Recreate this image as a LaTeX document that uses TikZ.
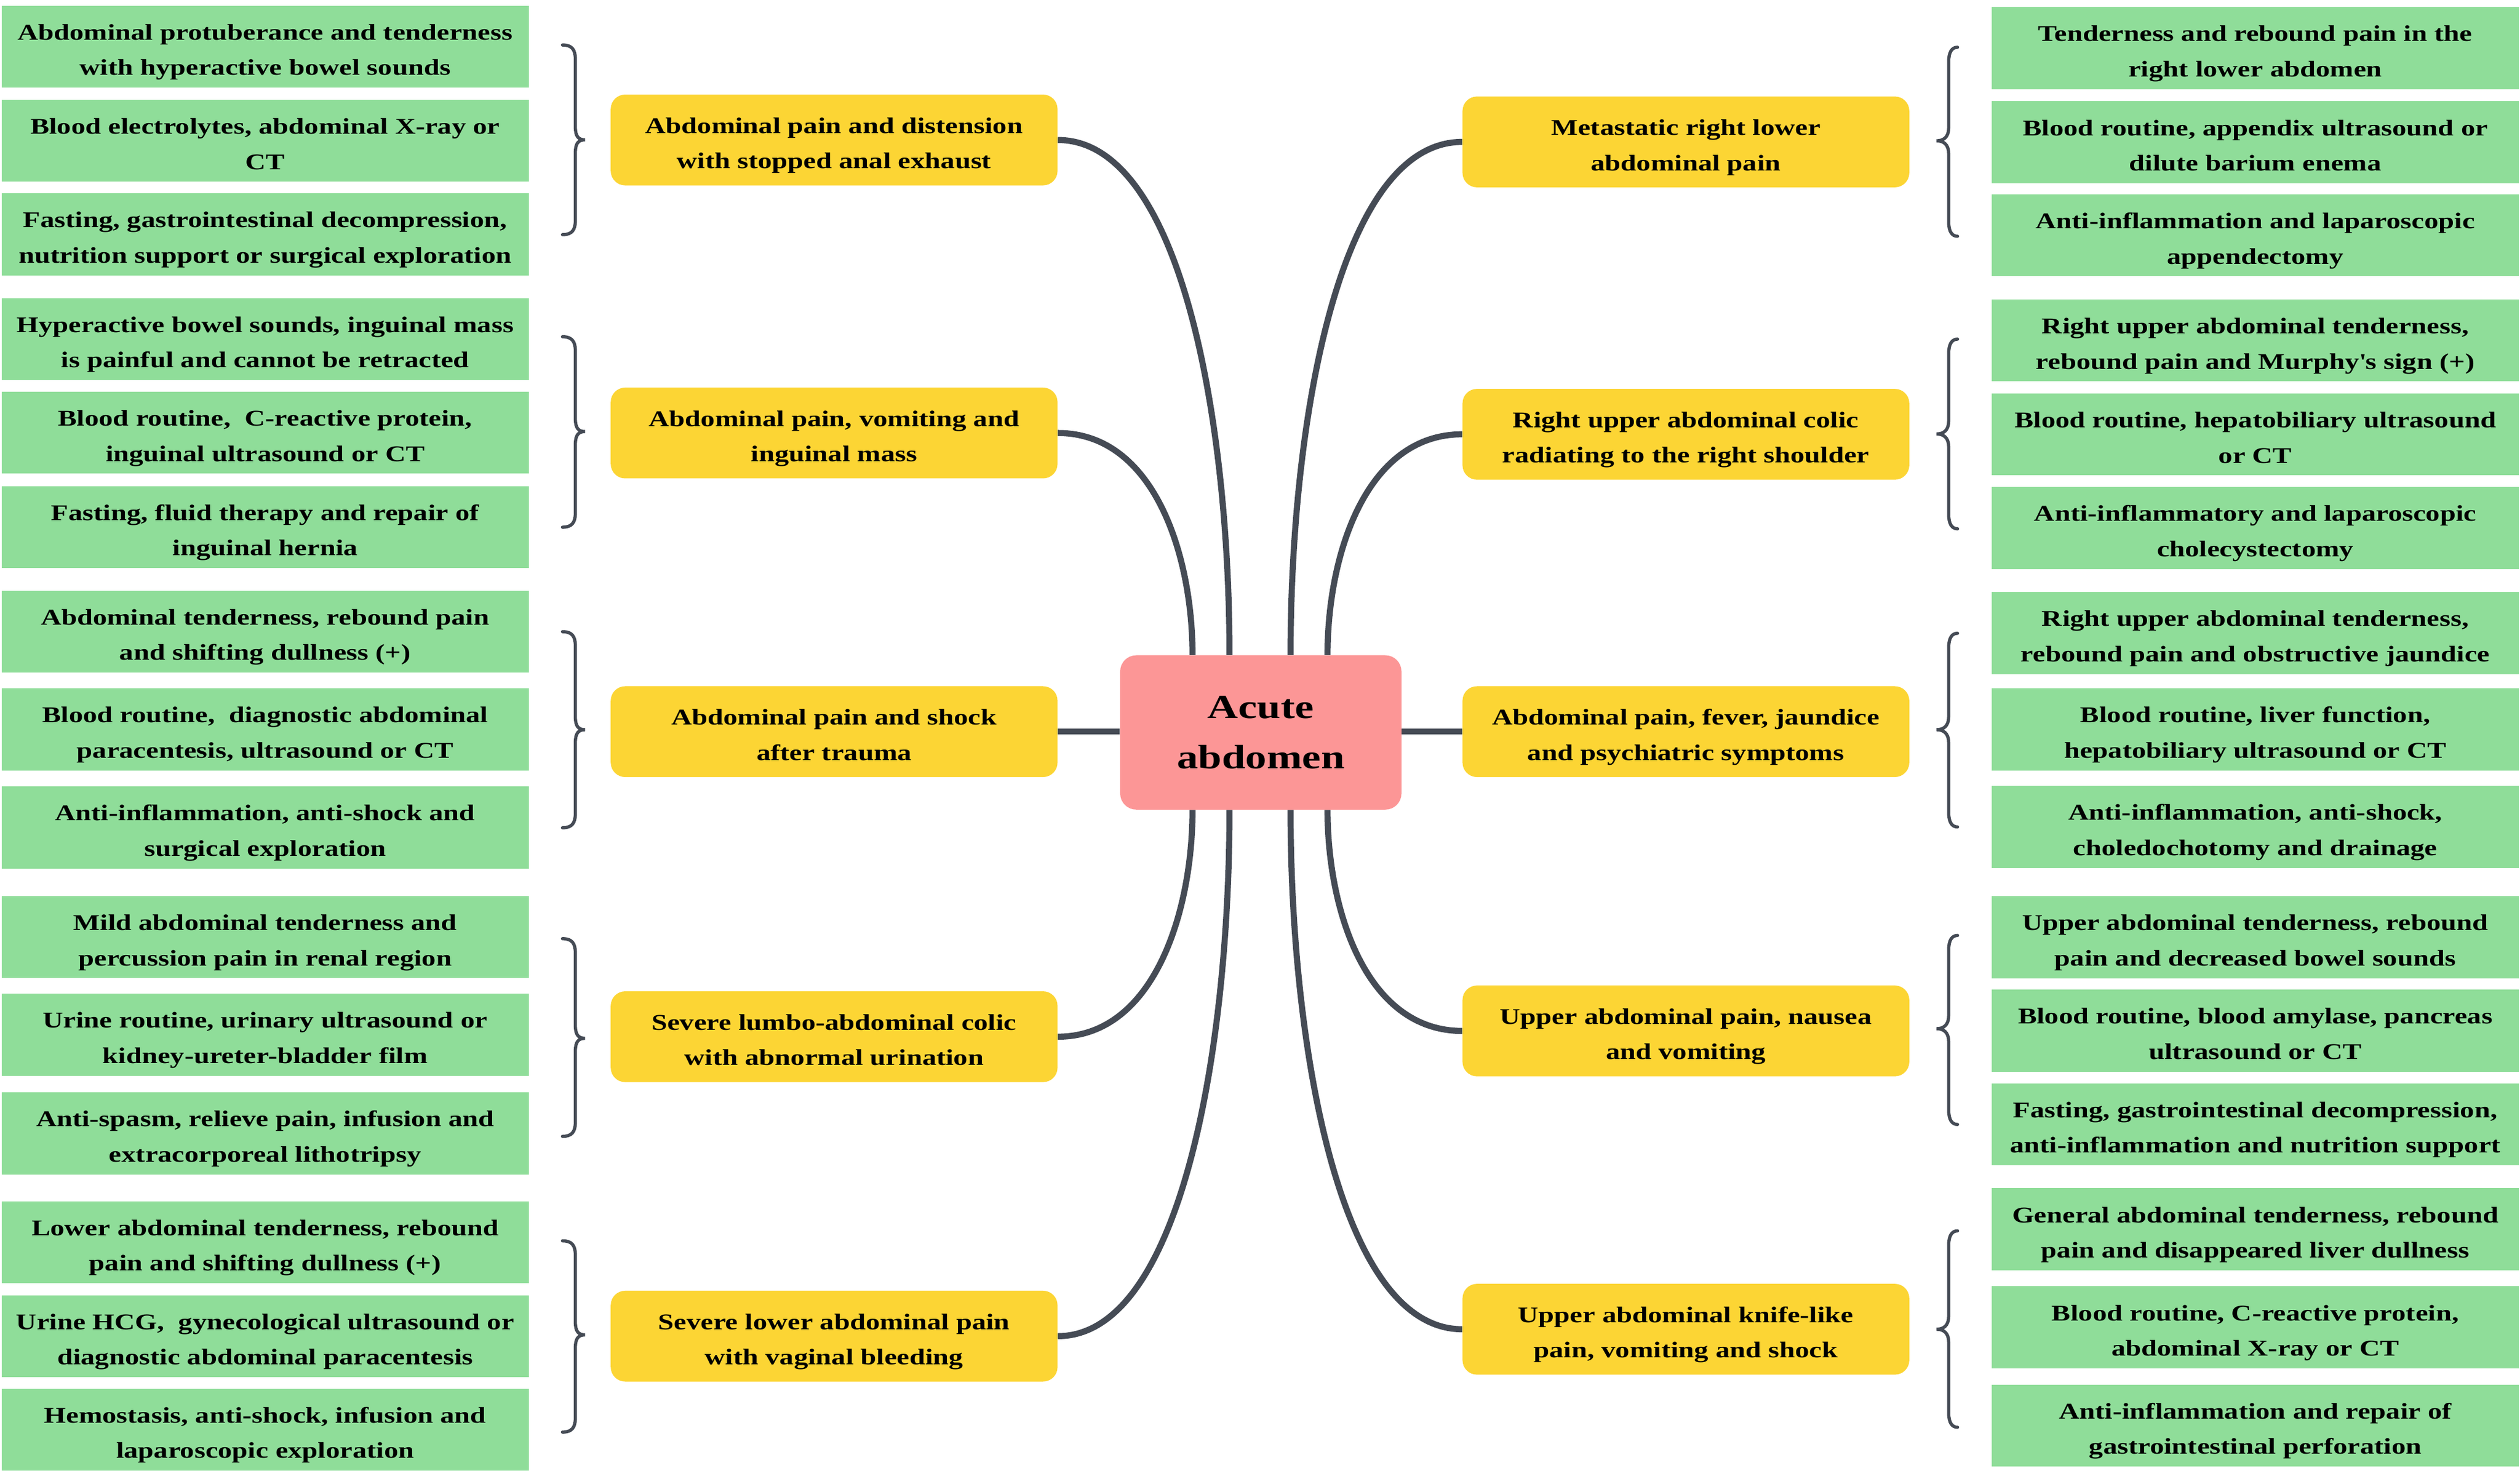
\documentclass[tikz,border=0pt]{standalone}
\usepackage{fontspec}
\setmainfont[FakeStretch=1.26]{Liberation Serif}
\usetikzlibrary{calc}
\definecolor{gbox}{RGB}{143,221,153}
\definecolor{ybox}{RGB}{252,213,52}
\definecolor{pbox}{RGB}{252,150,150}
\definecolor{lnk}{RGB}{69,75,85}
\newcommand{\twol}[2]{\rule{0pt}{16.6pt}#1\\#2\rule[-3pt]{0pt}{3pt}}
\begin{document}
\begin{tikzpicture}[x=1pt,y=-1pt,
  font=\bfseries\fontsize{14}{22}\selectfont,
  gbx/.style={fill=gbox, minimum width=328, minimum height=51, inner sep=0pt, align=center},
  ybx/.style={fill=ybox, rounded corners=9pt, minimum width=278, minimum height=56.5, inner sep=0pt, align=center},
  cbx/.style={fill=pbox, rounded corners=10pt, minimum width=175, minimum height=96, inner sep=0pt, align=center, font=\bfseries\fontsize{21}{31}\selectfont},
  conn/.style={draw=lnk, line width=3.8pt},
  brc/.style={draw=lnk, line width=2pt, line cap=round}]
\fill[white] (0,0) rectangle (1568,923);
\useasboundingbox (0,0) rectangle (1568,923);

% centre
\node[cbx] (c) at (784.5,455.7) {Acute\\abdomen};

% left yellow
\node[ybx] (l1) at (519,87.1) {\twol{Abdominal pain and distension}{with stopped anal exhaust}};
\node[ybx] (l2) at (519,269.4) {\twol{Abdominal pain, vomiting and}{inguinal mass}};
\node[ybx] (l3) at (519,455.2) {\twol{Abdominal pain and shock}{after trauma}};
\node[ybx] (l4) at (519,645) {\twol{Severe lumbo-abdominal colic}{with abnormal urination}};
\node[ybx] (l5) at (519,831.3) {\twol{Severe lower abdominal pain}{with vaginal bleeding}};

% right yellow
\node[ybx] (r1) at (1049,88.3) {\twol{Metastatic right lower}{abdominal pain}};
\node[ybx] (r2) at (1049,270.2) {\twol{Right upper abdominal colic}{radiating to the right shoulder}};
\node[ybx] (r3) at (1049,455.2) {\twol{Abdominal pain, fever, jaundice}{and psychiatric symptoms}};
\node[ybx] (r4) at (1049,641.4) {\twol{Upper abdominal pain, nausea}{and vomiting}};
\node[ybx] (r5) at (1049,827) {\twol{Upper abdominal knife-like}{pain, vomiting and shock}};

% left green
\node[gbx] (a11) at (165,29) {\twol{Abdominal protuberance and tenderness}{with hyperactive bowel sounds}};
\node[gbx] (a12) at (165,87.6) {\twol{Blood electrolytes, abdominal X-ray or}{CT}};
\node[gbx] (a13) at (165,145.8) {\twol{Fasting, gastrointestinal decompression,}{nutrition support or surgical exploration}};
\node[gbx] (a21) at (165,211) {\twol{Hyperactive bowel sounds, inguinal mass}{is painful and cannot be retracted}};
\node[gbx] (a22) at (165,269.2) {\twol{Blood routine,\ \ C-reactive protein,}{inguinal ultrasound or CT}};
\node[gbx] (a23) at (165,327.9) {\twol{Fasting, fluid therapy and repair of}{inguinal hernia}};
\node[gbx] (a31) at (165,392.9) {\twol{Abdominal tenderness, rebound pain}{and shifting dullness (+)}};
\node[gbx] (a32) at (165,453.8) {\twol{Blood routine,\ \ diagnostic abdominal}{paracentesis, ultrasound or CT}};
\node[gbx] (a33) at (165,514.9) {\twol{Anti-inflammation, anti-shock and}{surgical exploration}};
\node[gbx] (a41) at (165,583) {\twol{Mild abdominal tenderness and}{percussion pain in renal region}};
\node[gbx] (a42) at (165,643.8) {\twol{Urine routine, urinary ultrasound or}{kidney-ureter-bladder film}};
\node[gbx] (a43) at (165,705.2) {\twol{Anti-spasm, relieve pain, infusion and}{extracorporeal lithotripsy}};
\node[gbx] (a51) at (165,772.9) {\twol{Lower abdominal tenderness, rebound}{pain and shifting dullness (+)}};
\node[gbx] (a52) at (165,831.3) {\twol{Urine HCG,\ \ gynecological ultrasound or}{diagnostic abdominal paracentesis}};
\node[gbx] (a53) at (165,889.4) {\twol{Hemostasis, anti-shock, infusion and}{laparoscopic exploration}};

% right green
\node[gbx] (b11) at (1403.3,29.9) {\twol{Tenderness and rebound pain in the}{right lower abdomen}};
\node[gbx] (b12) at (1403.3,88.5) {\twol{Blood routine, appendix ultrasound or}{dilute barium enema}};
\node[gbx] (b13) at (1403.3,146.4) {\twol{Anti-inflammation and laparoscopic}{appendectomy}};
\node[gbx] (b21) at (1403.3,211.8) {\twol{Right upper abdominal tenderness,}{rebound pain and Murphy\textquotesingle s sign (+)}};
\node[gbx] (b22) at (1403.3,270.3) {\twol{Blood routine, hepatobiliary ultrasound}{or CT}};
\node[gbx] (b23) at (1403.3,328.5) {\twol{Anti-inflammatory and laparoscopic}{cholecystectomy}};
\node[gbx] (b31) at (1403.3,393.9) {\twol{Right upper abdominal tenderness,}{rebound pain and obstructive jaundice}};
\node[gbx] (b32) at (1403.3,453.8) {\twol{Blood routine, liver function,}{hepatobiliary ultrasound or CT}};
\node[gbx] (b33) at (1403.3,514.5) {\twol{Anti-inflammation, anti-shock,}{choledochotomy and drainage}};
\node[gbx] (b41) at (1403.3,583.1) {\twol{Upper abdominal tenderness, rebound}{pain and decreased bowel sounds}};
\node[gbx] (b42) at (1403.3,641.2) {\twol{Blood routine, blood amylase, pancreas}{ultrasound or CT}};
\node[gbx] (b43) at (1403.3,699.5) {\twol{Fasting, gastrointestinal decompression,}{anti-inflammation and nutrition support}};
\node[gbx] (b51) at (1403.3,764.8) {\twol{General abdominal tenderness, rebound}{pain and disappeared liver dullness}};
\node[gbx] (b52) at (1403.3,825.8) {\twol{Blood routine, C-reactive protein,}{abdominal X-ray or CT}};
\node[gbx] (b53) at (1403.3,886.9) {\twol{Anti-inflammation and repair of}{gastrointestinal perforation}};

% connectors
\draw[conn] ([xshift=-19.5pt]c.north) .. controls +(0,-144) and +(77,0) .. (l1.east);
\draw[conn] ([xshift=-42.5pt]c.north) .. controls +(0,-62) and +(60,0) .. (l2.east);
\draw[conn] (c.west |- l3.east) -- (l3.east);
\draw[conn] ([xshift=-42.5pt]c.south) .. controls +(0,63) and +(60,0) .. (l4.east);
\draw[conn] ([xshift=-19.5pt]c.south) .. controls +(0,147) and +(77,0) .. (l5.east);
\draw[conn] ([xshift=18.5pt]c.north) .. controls +(0,-144) and +(-77,0) .. (r1.west);
\draw[conn] ([xshift=41.5pt]c.north) .. controls +(0,-62) and +(-60,0) .. (r2.west);
\draw[conn] (c.east |- r3.west) -- (r3.west);
\draw[conn] ([xshift=41.5pt]c.south) .. controls +(0,62) and +(-60,0) .. (r4.west);
\draw[conn] ([xshift=18.5pt]c.south) .. controls +(0,145) and +(-77,0) .. (r5.west);

% left braces
\foreach \T/\M/\B in {28/87/146, 209.5/268.5/328, 393/454/515, 584/646/707, 772/830.5/891}{
  \draw[brc] (350,\T) .. controls (356,\T) and (358,{\T+3}) .. (358,{\T+9})
    -- (358,{\M-8}) .. controls (358,{\M-2}) and (360,\M) .. (364,\M)
    .. controls (360,\M) and (358,{\M+2}) .. (358,{\M+8})
    -- (358,{\B-9}) .. controls (358,{\B-3}) and (356,\B) .. (350,\B);
}
% right braces
\foreach \T/\M/\B in {29.4/87.6/147, 211/270/329, 394/454/514.5, 582/640/699.6, 765.8/827/888}{
  \draw[brc] (1218,\T) .. controls (1214.5,\T) and (1212.5,{\T+3}) .. (1212.5,{\T+9})
    -- (1212.5,{\M-8}) .. controls (1212.5,{\M-2}) and (1209,\M) .. (1205,\M)
    .. controls (1209,\M) and (1212.5,{\M+2}) .. (1212.5,{\M+8})
    -- (1212.5,{\B-9}) .. controls (1212.5,{\B-3}) and (1214.5,\B) .. (1218,\B);
}
\end{tikzpicture}
\end{document}
